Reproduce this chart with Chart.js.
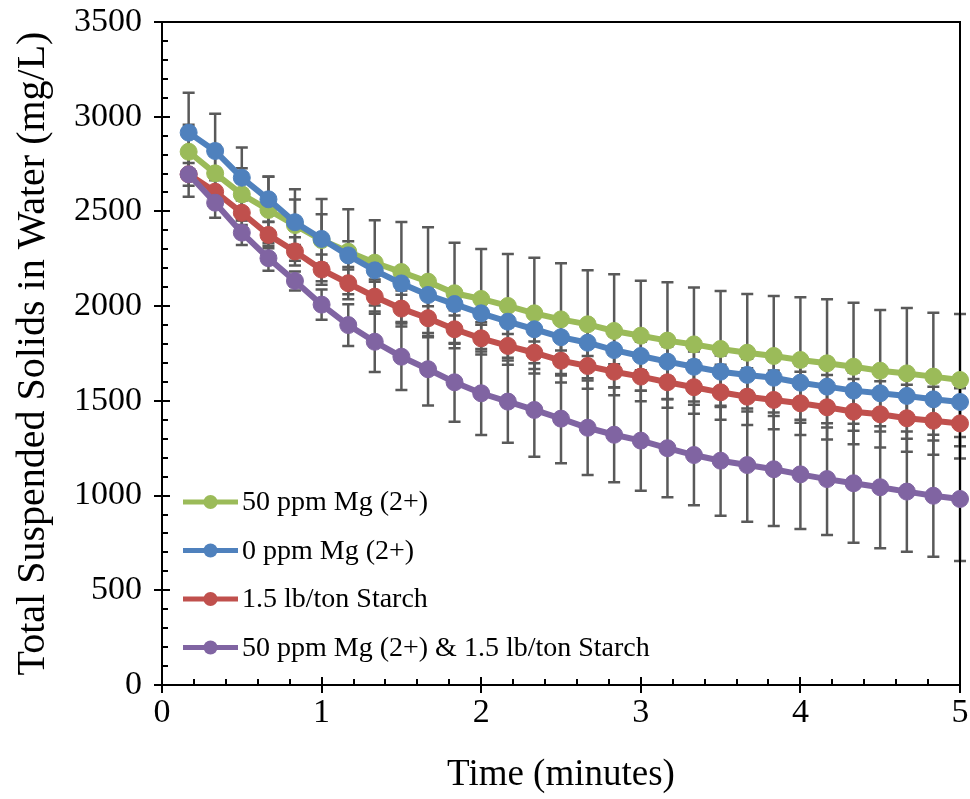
<!DOCTYPE html>
<html>
<head>
<meta charset="UTF-8">
<title>TSS chart</title>
<script src="https://cdn.jsdelivr.net/npm/chart.js"></script>
<style>
    html, body { margin: 0; padding: 0; background: #fff; }
    #box { width: 970px; height: 799px; }
</style>
</head>
<body>
<div id="box"><canvas id="tssChart" width="970" height="799"></canvas></div>
<script>
// time in minutes (one reading every 10 s)
var times = [0.167, 0.333, 0.5, 0.667, 0.833, 1, 1.167, 1.333, 1.5, 1.667,
             1.833, 2, 2.167, 2.333, 2.5, 2.667, 2.833, 3, 3.167, 3.333,
             3.5, 3.667, 3.833, 4, 4.167, 4.333, 4.5, 4.667, 4.833, 5];

var labels = ['50 ppm Mg (2+)', '0 ppm Mg (2+)', '1.5 lb/ton Starch', '50 ppm Mg (2+) & 1.5 lb/ton Starch'];

var mg50 = [2815, 2701, 2590, 2508, 2428, 2349, 2287, 2229, 2180, 2129,
            2068, 2038, 2001, 1962, 1930, 1904, 1869, 1844, 1818, 1798,
            1774, 1754, 1737, 1716, 1698, 1680, 1659, 1645, 1628, 1610];
var mg0 = [2916, 2819, 2678, 2564, 2443, 2355, 2268, 2189, 2120, 2059,
           2011, 1962, 1918, 1878, 1836, 1807, 1768, 1737, 1707, 1680,
           1654, 1637, 1622, 1596, 1575, 1554, 1540, 1526, 1508, 1494];
var starch = [2696, 2604, 2493, 2376, 2289, 2193, 2121, 2050, 1987, 1936,
              1878, 1830, 1790, 1754, 1712, 1684, 1654, 1628, 1598, 1572,
              1545, 1522, 1505, 1487, 1466, 1443, 1429, 1408, 1395, 1381];
var mgStarch = [2696, 2546, 2388, 2253, 2133, 2008, 1900, 1812, 1733, 1667,
                1598, 1540, 1496, 1452, 1406, 1358, 1321, 1290, 1250, 1214,
                1184, 1161, 1139, 1112, 1087, 1065, 1044, 1021, 999, 982];

// +/- error for each point
var errMg50 = [142, 150, 138, 175, 189, 217, 224, 225, 264, 287,
               267, 264, 274, 294, 296, 285, 299, 290, 308, 301,
               306, 310, 317, 331, 338, 338, 321, 345, 337, 349];
var errMg0 = [211, 196, 160, 120, 120, 130, 75, 60, 60, 60,
              60, 60, 65, 65, 70, 70, 75, 75, 80, 80,
              85, 85, 90, 90, 95, 95, 100, 100, 105, 110];
var errStarch = [60, 60, 65, 70, 75, 80, 85, 90, 95, 100,
                 100, 85, 100, 110, 115, 120, 125, 130, 135, 140,
                 145, 150, 155, 167, 170, 172, 175, 177, 180, 185];
var errMgStarch = [118, 80, 65, 66, 50, 80, 110, 160, 176, 191,
                   208, 220, 217, 247, 236, 249, 251, 264, 259, 265,
                   290, 299, 300, 288, 295, 314, 322, 317, 322, 327];

var colors = ['#9BBB59', '#4F81BD', '#C0504D', '#8064A2'];
var series = [mg50, mg0, starch, mgStarch];
var errors = [errMg50, errMg0, errStarch, errMgStarch];
var serif = '"Liberation Serif", "Times New Roman", serif';

function points(arr) {
    return arr.map(function (v, i) { return { x: times[i], y: v }; });
}

var datasets = series.map(function (arr, i) {
    return {
        label: labels[i],
        data: points(arr),
        errors: errors[i],
        borderColor: colors[i],
        backgroundColor: colors[i],
        pointBackgroundColor: colors[i],
        pointBorderColor: colors[i],
        borderWidth: 6,
        pointRadius: 8.5,
        pointBorderWidth: 1,
        clip: false,
        order: 3 - i   // purple on top, green at the back
    };
});

// error bars + frame, drawn under the lines
var errorBars = {
    id: 'errorBars',
    beforeDatasetsDraw: function (chart) {
        var ctx = chart.ctx, xs = chart.scales.x, ys = chart.scales.y;
        ctx.save();
        ctx.strokeStyle = '#595959';
        ctx.lineWidth = 2.5;
        chart.data.datasets.forEach(function (ds) {
            ds.data.forEach(function (p, i) {
                var e = ds.errors[i];
                var px = xs.getPixelForValue(p.x);
                var top = ys.getPixelForValue(p.y + e);
                var bot = ys.getPixelForValue(p.y - e);
                ctx.beginPath();
                ctx.moveTo(px, top); ctx.lineTo(px, bot);
                ctx.moveTo(px - 6, top); ctx.lineTo(px + 6, top);
                ctx.moveTo(px - 6, bot); ctx.lineTo(px + 6, bot);
                ctx.stroke();
            });
        });
        var a = chart.chartArea;
        ctx.strokeStyle = '#000';
        ctx.lineWidth = 2;
        ctx.beginPath();
        ctx.moveTo(a.left, a.top); ctx.lineTo(a.right, a.top);
        ctx.lineTo(a.right, a.bottom);
        ctx.stroke();
        ctx.restore();
    }
};

// inner and minor tick marks like the spreadsheet axes
var innerTicks = {
    id: 'innerTicks',
    afterDraw: function (chart) {
        var ctx = chart.ctx, xs = chart.scales.x, ys = chart.scales.y;
        var a = chart.chartArea;
        ctx.save();
        ctx.strokeStyle = '#000';
        ctx.lineWidth = 2;
        ctx.beginPath();
        for (var v = 0; v <= 3500; v += 100) {
            var py = Math.round(ys.getPixelForValue(v));
            var len = (v % 500 === 0) ? 8 : 6;
            ctx.moveTo(a.left, py); ctx.lineTo(a.left + len, py);
        }
        for (var k = 0; k <= 25; k++) {
            var px = Math.round(xs.getPixelForValue(k / 5));
            var l2 = (k % 5 === 0) ? 8 : 6;
            ctx.moveTo(px, a.bottom); ctx.lineTo(px, a.bottom - l2);
        }
        ctx.stroke();
        ctx.restore();
    }
};

// legend inside the plot, lower left
var insideLegend = {
    id: 'insideLegend',
    afterDraw: function (chart) {
        var ctx = chart.ctx;
        ctx.save();
        ctx.font = '28px ' + serif;
        ctx.textBaseline = 'middle';
        labels.forEach(function (txt, i) {
            var y = 502 + i * 48.5;
            ctx.strokeStyle = colors[i];
            ctx.lineWidth = 5;
            ctx.beginPath();
            ctx.moveTo(183, y); ctx.lineTo(238, y);
            ctx.stroke();
            ctx.fillStyle = colors[i];
            ctx.beginPath();
            ctx.arc(210.5, y, 7, 0, Math.PI * 2);
            ctx.fill();
            ctx.fillStyle = '#000';
            ctx.fillText(txt, 242, y + 1);
        });
        ctx.restore();
    }
};

var ctx = document.getElementById('tssChart').getContext('2d');
var tssChart = new Chart(ctx, {
    type: 'line',
    data: { datasets: datasets },
    plugins: [errorBars, innerTicks, insideLegend],
    options: {
        responsive: false,
        animation: false,
        layout: { padding: { left: 0, right: 10, top: 22, bottom: 0 } },
        plugins: {
            legend: { display: false },
            tooltip: { enabled: false }
        },
        scales: {
            x: {
                type: 'linear',
                min: 0,
                max: 5,
                afterFit: function (s) { s.height = 114; },
                ticks: { stepSize: 1, color: '#000', padding: 0, font: { family: serif, size: 34 },
                         callback: function (v) { return String(v); } },
                grid: { display: true, drawOnChartArea: false, drawTicks: true, tickLength: 8, color: '#000', lineWidth: 2 },
                border: { display: true, color: '#000', width: 2 },
                title: { display: true, text: 'Time (minutes)', color: '#000', font: { family: serif, size: 37 }, padding: { top: 0, bottom: 2 } }
            },
            y: {
                min: 0,
                max: 3500,
                afterFit: function (s) { s.width = 162; s.paddingTop = 0; s.paddingBottom = 0; },
                ticks: { stepSize: 500, color: '#000', padding: 12, font: { family: serif, size: 34 },
                         callback: function (v) { return String(v); } },
                grid: { display: true, drawOnChartArea: false, drawTicks: true, tickLength: 8, color: '#000', lineWidth: 2 },
                border: { display: true, color: '#000', width: 2 },
                title: { display: true, text: 'Total Suspended Solids in Water (mg/L)', color: '#000', font: { family: serif, size: 40 }, padding: { top: 9, bottom: 0 } }
            }
        }
    }
});
</script>
</body>
</html>
